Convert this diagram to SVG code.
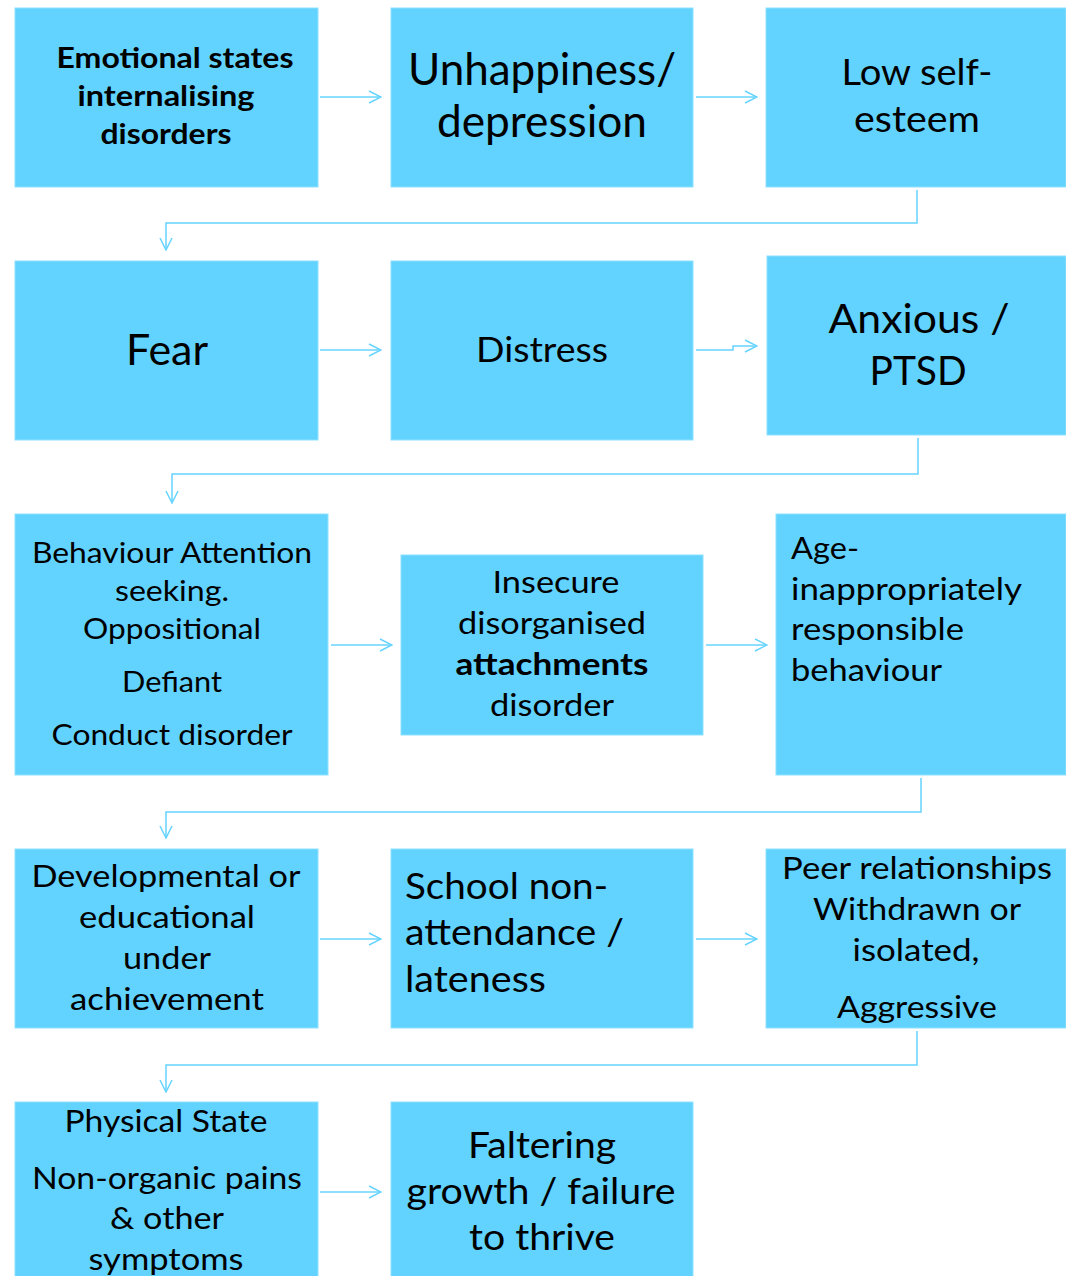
<svg xmlns="http://www.w3.org/2000/svg" width="1066" height="1276" viewBox="0 0 1066 1276">
<defs>
<marker id="ah" viewBox="0 0 14 14" refX="13" refY="7" markerWidth="14" markerHeight="14" markerUnits="userSpaceOnUse" orient="auto">
<path d="M1,1 L13,7 L1,13" fill="none" stroke="#66D4FF" stroke-width="1.5"/>
</marker>
<style>
.box{fill:#62D3FF;stroke:#8EE0FF;stroke-width:1}
.t{font-family:Lato,"Liberation Sans",sans-serif;fill:#000;text-anchor:middle}
.l{text-anchor:start}
.b{font-weight:bold}
.c{fill:none;stroke:#66D4FF;stroke-width:1.5;marker-end:url(#ah)}
</style>
</defs>
<rect width="1066" height="1276" fill="#fff"/>
<g id="connectors">
<path class="c" d="M320,97 H381"/>
<path class="c" d="M696,97 H757"/>
<path class="c" d="M917,190 V223 H166 V250"/>
<path class="c" d="M320,350 H381"/>
<path class="c" d="M696,350 H733 V346 H757"/>
<path class="c" d="M918,438 V474 H172 V503"/>
<path class="c" d="M331,645 H392"/>
<path class="c" d="M706,645 H767"/>
<path class="c" d="M921,778 V812 H166 V838"/>
<path class="c" d="M320,939 H381"/>
<path class="c" d="M696,939 H757"/>
<path class="c" d="M917,1031 V1065 H166 V1092"/>
<path class="c" d="M320,1192 H381"/>
</g>
<g id="n1"><rect class="box" x="15" y="8" width="303" height="179"/>
<text class="t b" font-size="28" x="175" y="68" textLength="237" lengthAdjust="spacingAndGlyphs">Emotional states</text>
<text class="t b" font-size="28" x="166" y="106" textLength="177" lengthAdjust="spacingAndGlyphs">internalising</text>
<text class="t b" font-size="28" x="166" y="144" textLength="131" lengthAdjust="spacingAndGlyphs">disorders</text></g>
<g id="n2"><rect class="box" x="391" y="8" width="302" height="179"/>
<text class="t" font-size="44" x="542" y="85" textLength="268" lengthAdjust="spacingAndGlyphs">Unhappiness/</text>
<text class="t" font-size="44" x="542" y="137" textLength="210" lengthAdjust="spacingAndGlyphs">depression</text></g>
<g id="n3"><rect class="box" x="766" y="8" width="300" height="179"/>
<text class="t" font-size="36" x="917" y="85" textLength="151" lengthAdjust="spacingAndGlyphs">Low self-</text>
<text class="t" font-size="36" x="917" y="132" textLength="126" lengthAdjust="spacingAndGlyphs">esteem</text></g>
<g id="n4"><rect class="box" x="15" y="261" width="303" height="179"/>
<text class="t" font-size="42" x="167" y="365" textLength="82" lengthAdjust="spacingAndGlyphs">Fear</text></g>
<g id="n5"><rect class="box" x="391" y="261" width="302" height="179"/>
<text class="t" font-size="34" x="542" y="362" textLength="132" lengthAdjust="spacingAndGlyphs">Distress</text></g>
<g id="n6"><rect class="box" x="767" y="256" width="299" height="179"/>
<text class="t" font-size="40" x="919" y="333" textLength="181" lengthAdjust="spacingAndGlyphs">Anxious /</text>
<text class="t" font-size="40" x="918" y="385" textLength="97" lengthAdjust="spacingAndGlyphs">PTSD</text></g>
<g id="n7"><rect class="box" x="15" y="514" width="313" height="261"/>
<text class="t" font-size="28" x="172" y="563" textLength="280" lengthAdjust="spacingAndGlyphs">Behaviour Attention</text>
<text class="t" font-size="28" x="172" y="601" textLength="114" lengthAdjust="spacingAndGlyphs">seeking.</text>
<text class="t" font-size="28" x="172" y="639" textLength="178" lengthAdjust="spacingAndGlyphs">Oppositional</text>
<text class="t" font-size="28" x="172" y="692" textLength="100" lengthAdjust="spacingAndGlyphs">Defiant</text>
<text class="t" font-size="28" x="172" y="745" textLength="241" lengthAdjust="spacingAndGlyphs">Conduct disorder</text></g>
<g id="n8"><rect class="box" x="401" y="555" width="302" height="180"/>
<text class="t" font-size="30" x="556" y="593" textLength="127" lengthAdjust="spacingAndGlyphs">Insecure</text>
<text class="t" font-size="30" x="552" y="634" textLength="188" lengthAdjust="spacingAndGlyphs">disorganised</text>
<text class="t b" font-size="30" x="552" y="675" textLength="193" lengthAdjust="spacingAndGlyphs">attachments</text>
<text class="t" font-size="30" x="552" y="716" textLength="124" lengthAdjust="spacingAndGlyphs">disorder</text></g>
<g id="n9"><rect class="box" x="776" y="514" width="290" height="261"/>
<text class="t l" font-size="31" x="791" y="559" textLength="68" lengthAdjust="spacingAndGlyphs">Age-</text>
<text class="t l" font-size="31" x="791" y="600" textLength="231" lengthAdjust="spacingAndGlyphs">inappropriately</text>
<text class="t l" font-size="31" x="791" y="640" textLength="173" lengthAdjust="spacingAndGlyphs">responsible</text>
<text class="t l" font-size="31" x="791" y="681" textLength="151" lengthAdjust="spacingAndGlyphs">behaviour</text></g>
<g id="n10"><rect class="box" x="15" y="849" width="303" height="179"/>
<text class="t" font-size="31" x="166" y="887" textLength="269" lengthAdjust="spacingAndGlyphs">Developmental or</text>
<text class="t" font-size="31" x="167" y="928" textLength="176" lengthAdjust="spacingAndGlyphs">educational</text>
<text class="t" font-size="31" x="167" y="969" textLength="88" lengthAdjust="spacingAndGlyphs">under</text>
<text class="t" font-size="31" x="167" y="1010" textLength="194" lengthAdjust="spacingAndGlyphs">achievement</text></g>
<g id="n11"><rect class="box" x="391" y="849" width="302" height="179"/>
<text class="t l" font-size="37" x="405" y="899" textLength="203" lengthAdjust="spacingAndGlyphs">School non-</text>
<text class="t l" font-size="37" x="405" y="945" textLength="219" lengthAdjust="spacingAndGlyphs">attendance /</text>
<text class="t l" font-size="37" x="405" y="992" textLength="141" lengthAdjust="spacingAndGlyphs">lateness</text></g>
<g id="n12"><rect class="box" x="766" y="849" width="300" height="179"/>
<text class="t" font-size="30" x="917" y="879" textLength="270" lengthAdjust="spacingAndGlyphs">Peer relationships</text>
<text class="t" font-size="30" x="917" y="920" textLength="208" lengthAdjust="spacingAndGlyphs">Withdrawn or</text>
<text class="t" font-size="30" x="916" y="961" textLength="127" lengthAdjust="spacingAndGlyphs">isolated,</text>
<text class="t" font-size="30" x="917" y="1018" textLength="160" lengthAdjust="spacingAndGlyphs">Aggressive</text></g>
<g id="n13"><rect class="box" x="15" y="1102" width="303" height="180"/>
<text class="t" font-size="30" x="166" y="1132" textLength="203" lengthAdjust="spacingAndGlyphs">Physical State</text>
<text class="t" font-size="30" x="167" y="1189" textLength="270" lengthAdjust="spacingAndGlyphs">Non-organic pains</text>
<text class="t" font-size="30" x="167" y="1229" textLength="114" lengthAdjust="spacingAndGlyphs">&amp; other</text>
<text class="t" font-size="30" x="166" y="1270" textLength="155" lengthAdjust="spacingAndGlyphs">symptoms</text></g>
<g id="n14"><rect class="box" x="391" y="1102" width="302" height="180"/>
<text class="t" font-size="37" x="542" y="1158" textLength="148" lengthAdjust="spacingAndGlyphs">Faltering</text>
<text class="t" font-size="37" x="541" y="1204" textLength="269" lengthAdjust="spacingAndGlyphs">growth / failure</text>
<text class="t" font-size="37" x="542" y="1250" textLength="146" lengthAdjust="spacingAndGlyphs">to thrive</text></g>
</svg>
